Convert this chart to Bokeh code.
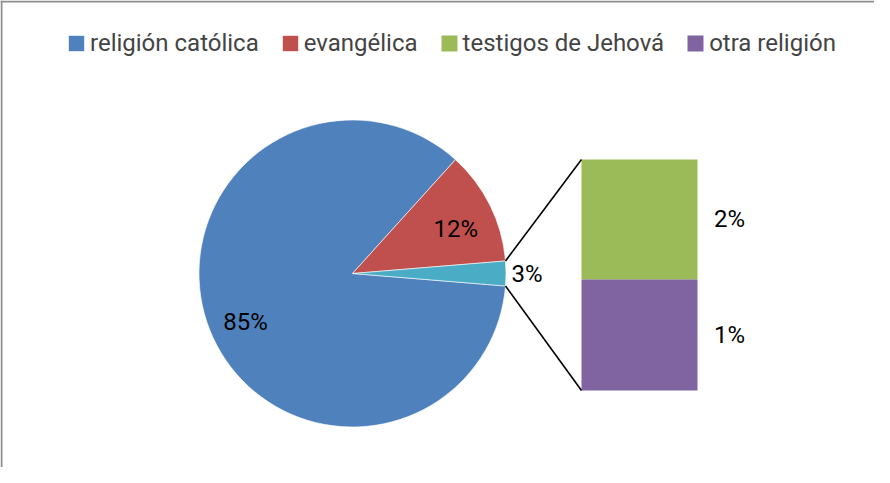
import math
from bokeh.plotting import figure
from bokeh.models import Range1d, Legend, LegendItem, ColumnDataSource
from bokeh.core.properties import value
from bokeh.embed import file_html
from bokeh.resources import INLINE

# ---- data ----
religions = ["religión católica", "evangélica", "testigos de Jehová", "otra religión"]
shares = [85.4, 12.0, 1.35, 1.25]
pie_labels = ["85%", "12%", "3%"]
bar_labels = ["2%", "1%"]
colors = ["#4F81BD", "#C0504D", "#9BBB59", "#8064A2"]
other_color = "#4BACC6"

# ---- layout (pixel-like data space) ----
W, H = 874, 467
p = figure(width=W, height=H, x_range=Range1d(8, 882), y_range=Range1d(8, 475),
           toolbar_location=None, output_backend="svg", min_border=0,
           x_axis_location=None, y_axis_location=None, outline_line_color=None,
           background_fill_color="white", border_fill_color="white")
p.grid.visible = False

FONT = value("Roboto")
cx, cy, r = 360, 202, 153.5
total = sum(shares)
other = shares[2] + shares[3]
half = other / total * math.pi
ev_end = half + shares[1] / total * 2 * math.pi

pie = ColumnDataSource(dict(
    start=[ev_end, half, -half],
    end=[2 * math.pi - half, ev_end, half],
    color=[colors[0], colors[1], other_color],
))
wr = p.wedge(x=cx, y=cy, radius=r, start_angle="start", end_angle="end",
             fill_color="color", line_color="white", line_width=0.6, source=pie)

# bar of pie (stacked: testigos on top, otra below)
bx0, bx1, by0, by1 = 589, 705, 85, 316
scale = (by1 - by0) / other
bar = ColumnDataSource(dict(
    left=[bx0, bx0], right=[bx1, bx1],
    bottom=[by0 + shares[3] * scale, by0],
    top=[by0 + other * scale, by0 + shares[3] * scale],
    color=[colors[2], colors[3]],
))
br = p.quad(left="left", right="right", bottom="bottom", top="top",
            fill_color="color", line_color=None, source=bar)

# connector lines
p.segment(x0=[cx + r * math.cos(half), cx + r * math.cos(-half)],
          y0=[cy + r * math.sin(half), cy + r * math.sin(-half)],
          x1=[bx0, bx0], y1=[by1, by0], line_color="black", line_width=1.6)

# pie labels
mid_cat = (ev_end + 2 * math.pi - half) / 2
mid_ev = (half + ev_end) / 2
lx = [cx + 0.75 * r * math.cos(mid_cat), cx + 0.75 * r * math.cos(mid_ev)]
ly = [cy + 0.75 * r * math.sin(mid_cat), cy + 0.75 * r * math.sin(mid_ev)]
p.text(x=lx, y=ly, text=pie_labels[:2], text_font=FONT, text_font_size="24px",
       text_align="center", text_baseline="middle", y_offset=6, text_color="black")
p.text(x=[cx + r + 21], y=[cy], text=[pie_labels[2]], text_font=FONT, text_font_size="24px",
       text_align="center", text_baseline="middle", text_color="black")
p.text(x=[bx1 + 32, bx1 + 32],
       y=[(bar.data["bottom"][0] + bar.data["top"][0]) / 2, (bar.data["bottom"][1] + bar.data["top"][1]) / 2],
       text=bar_labels, text_font=FONT, text_font_size="24px",
       text_align="center", text_baseline="middle", text_color="black")

# chart border (top & left visible)
p.segment(x0=[9, 8], y0=[8, 474], x1=[9, 882], y1=[475, 474],
          line_color="#8f8f8f", line_width=2)

legend = Legend(items=[
    LegendItem(label=religions[0], renderers=[wr], index=0),
    LegendItem(label=religions[1], renderers=[wr], index=1),
    LegendItem(label=religions[2], renderers=[br], index=0),
    LegendItem(label=religions[3], renderers=[br], index=1),
], orientation="horizontal", location=(66, 410),
    label_text_font="Roboto", label_text_font_size="24px",
    glyph_width=20, glyph_height=20, label_standoff=4, spacing=21,
    padding=0, margin=0, border_line_color=None, background_fill_alpha=0)
p.add_layout(legend)

open("out.html", "w").write(file_html(p, INLINE))
